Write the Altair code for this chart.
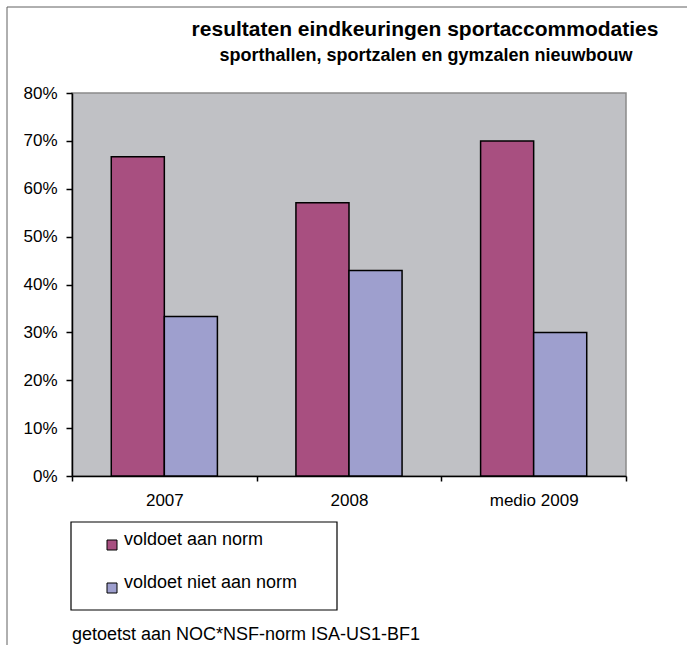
import altair as alt
import pandas as pd

TITLE = "resultaten eindkeuringen sportaccommodaties"
SUBTITLE = "sporthallen, sportzalen en gymzalen nieuwbouw"
FOOTER = "getoetst aan NOC*NSF-norm ISA-US1-BF1"

years = ["2007", "2008", "medio 2009"]
series = ["voldoet aan norm", "voldoet niet aan norm"]
voldoet = [0.667, 0.571, 0.70]
niet_voldoet = [0.333, 0.429, 0.30]
y_ticks = [0, 0.1, 0.2, 0.3, 0.4, 0.5, 0.6, 0.7, 0.8]

colors = ["#A84F80", "#9E9FCE"]
FONT = "Liberation Sans"
AX = 17
LG = 18

rows = []
for i, yr in enumerate(years):
    rows.append({"year": yr, "series": series[0], "value": voldoet[i]})
    rows.append({"year": yr, "series": series[1], "value": niet_voldoet[i]})
df = pd.DataFrame(rows)

W, H = 554, 383
PL, PT = 72, 93

bars = alt.Chart(df).mark_bar(stroke="black", strokeWidth=1.5).encode(
    x=alt.X("year:N", sort=years,
            scale=alt.Scale(paddingInner=0, paddingOuter=0),
            axis=alt.Axis(title=None, labelAngle=0, tickBand="extent",
                          domainColor="black", domainWidth=1.5,
                          tickColor="black", tickSize=5, tickWidth=1.5,
                          labelFontSize=AX, labelFont=FONT, labelColor="black",
                          labelPadding=11)),
    xOffset=alt.XOffset("series:N", sort=series,
                        scale=alt.Scale(paddingInner=0, paddingOuter=0.74)),
    y=alt.Y("value:Q", scale=alt.Scale(domain=[0, 0.8], nice=False),
            axis=alt.Axis(title=None, values=y_ticks, format=".0%", grid=False,
                          domainColor="black", domainWidth=1.5,
                          tickColor="black", tickSize=6, tickWidth=1.5,
                          labelFontSize=AX, labelFont=FONT, labelColor="black",
                          labelPadding=9)),
    color=alt.Color("series:N", sort=series,
                    scale=alt.Scale(domain=series, range=colors),
                    legend=alt.Legend(title=None, orient="none",
                                      legendX=31, legendY=443, padding=0,
                                      symbolType="square", symbolSize=100,
                                      symbolStrokeColor="black", symbolStrokeWidth=1,
                                      labelFontSize=LG, labelFont=FONT,
                                      labelColor="black", labelOffset=3,
                                      labelLimit=400,
                                      rowPadding=22, labelBaseline="alphabetic")),
)

title = alt.Chart(pd.DataFrame({"t": [TITLE]})).mark_text(
    font=FONT, fontSize=21, fontWeight="bold", align="center",
    baseline="alphabetic", color="black"
).encode(text="t:N", x=alt.value(425 - PL), y=alt.value(36 - PT))

subtitle = alt.Chart(pd.DataFrame({"t": [SUBTITLE]})).mark_text(
    font=FONT, fontSize=18, fontWeight="bold", align="center",
    baseline="alphabetic", color="black"
).encode(text="t:N", x=alt.value(426 - PL), y=alt.value(61 - PT))

footer = alt.Chart(pd.DataFrame({"t": [FOOTER]})).mark_text(
    font=FONT, fontSize=LG, align="left", baseline="alphabetic", color="black"
).encode(text="t:N", x=alt.value(0), y=alt.value(640 - PT))

legend_box = alt.Chart(pd.DataFrame({"a": [0]})).mark_rect(
    fill=None, stroke="black", strokeWidth=1.2
).encode(x=alt.value(71 - PL), x2=alt.value(337 - PL),
         y=alt.value(522 - PT), y2=alt.value(610 - PT))

border_left = alt.Chart(pd.DataFrame({"a": [0]})).mark_rule(
    color="#606060", strokeWidth=1
).encode(x=alt.value(7 - PL), y=alt.value(7 - PT), y2=alt.value(645 - PT))

border_top = alt.Chart(pd.DataFrame({"a": [0]})).mark_rule(
    color="#606060", strokeWidth=1
).encode(x=alt.value(7 - PL), x2=alt.value(687 - PL), y=alt.value(7 - PT))

chart = alt.layer(
    bars, title, subtitle, footer, legend_box, border_left, border_top
).properties(
    width=W, height=H,
    autosize=alt.AutoSizeParams(type="none"),
    padding={"left": PL, "top": PT, "right": 687 - PL - W, "bottom": 645 - PT - H},
    background="white",
).configure_view(
    fill="#C0C1C5", stroke="#8A8A8A", strokeWidth=1.5
)

chart.save("out.html", embed_options={"renderer": "svg", "actions": False})
